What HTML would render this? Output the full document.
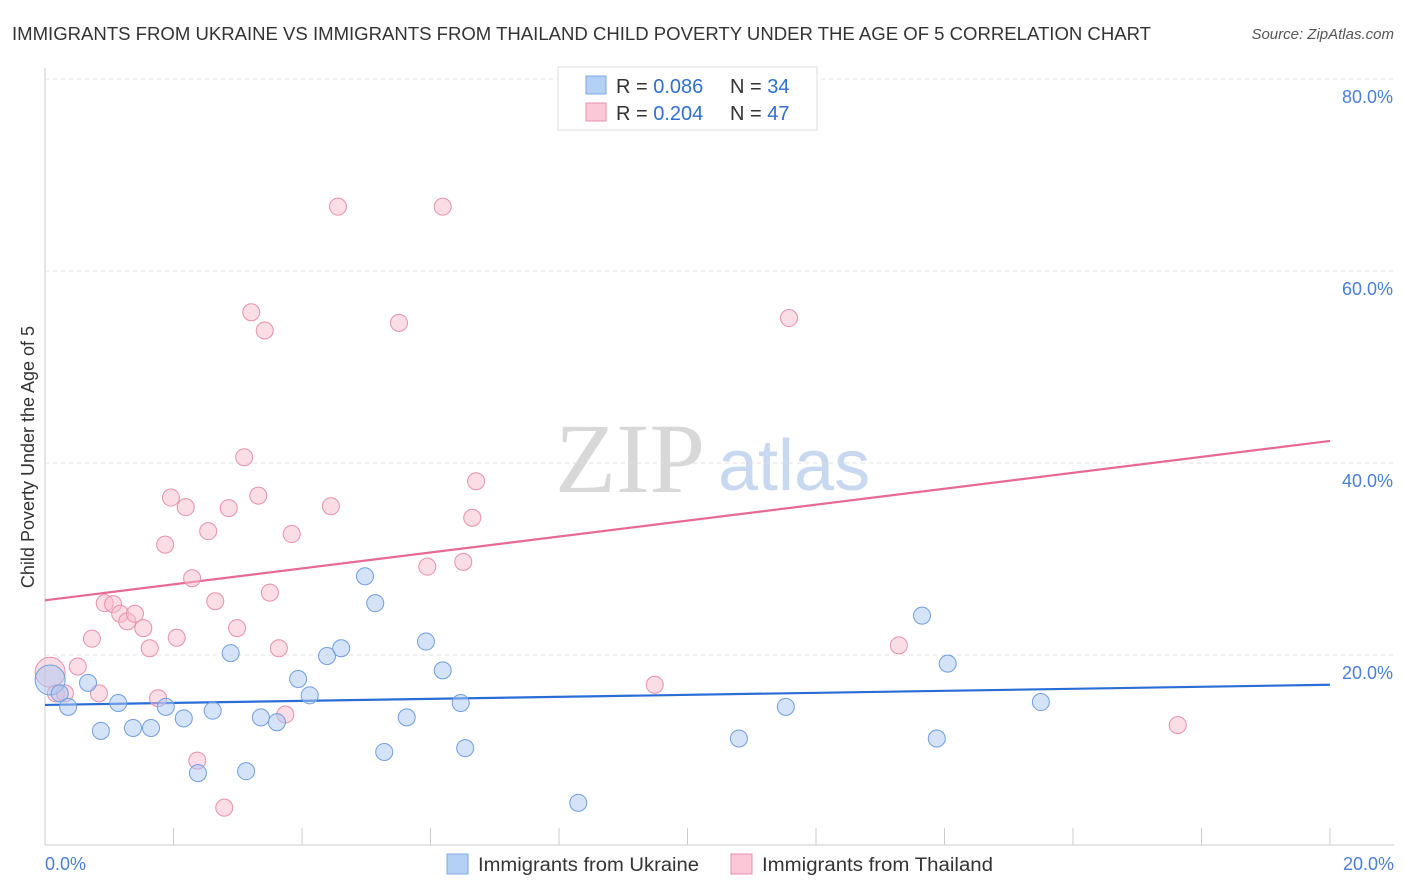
<!DOCTYPE html>
<html><head><meta charset="utf-8">
<style>
body{margin:0;background:#fff;font-family:"Liberation Sans",sans-serif;}
#wrap{position:relative;width:1406px;height:892px;overflow:hidden;}
</style></head>
<body>
<div id="wrap">
<svg id="chart" width="1406" height="892" xmlns="http://www.w3.org/2000/svg">
  <text x="12" y="40" font-size="18" fill="#333" textLength="1139" lengthAdjust="spacingAndGlyphs">IMMIGRANTS FROM UKRAINE VS IMMIGRANTS FROM THAILAND CHILD POVERTY UNDER THE AGE OF 5 CORRELATION CHART</text>
  <text x="1394" y="39" font-size="15" fill="#555" font-style="italic" text-anchor="end">Source: ZipAtlas.com</text>
  <text x="555" y="492" font-size="100" fill="#d8d8d8" font-family="Liberation Serif,serif">ZIP</text>
  <text x="718" y="490" font-size="72" fill="#c8d8f0">atlas</text>
  <text transform="translate(34,457) rotate(-90)" font-size="18" fill="#333" text-anchor="middle">Child Poverty Under the Age of 5</text>
  <g id="grid"></g>
  <g id="axes"></g>
  <g id="lines"></g>
  <g id="points"></g>
  <g>
    <rect x="558" y="67" width="259" height="63" fill="#fff" stroke="#ddd"/>
    <rect x="586" y="76" width="20" height="18" fill="#b5d0f5" stroke="#7fa8e0"/>
    <text x="616" y="93" font-size="20" fill="#333">R = <tspan fill="#2f6fd0">0.086</tspan></text>
    <text x="730" y="93" font-size="20" fill="#333">N = <tspan fill="#2f6fd0">34</tspan></text>
    <rect x="586" y="103" width="20" height="18" fill="#fbc8d7" stroke="#e890ac"/>
    <text x="616" y="120" font-size="20" fill="#333">R = <tspan fill="#2f6fd0">0.204</tspan></text>
    <text x="730" y="120" font-size="20" fill="#333">N = <tspan fill="#2f6fd0">47</tspan></text>
  </g>
  <g>
    <rect x="447" y="854" width="21" height="20" fill="#b5d0f5" stroke="#7fa8e0"/>
    <text x="478" y="871" font-size="19" fill="#333" textLength="221" lengthAdjust="spacingAndGlyphs">Immigrants from Ukraine</text>
    <rect x="731" y="854" width="21" height="20" fill="#fbc8d7" stroke="#e890ac"/>
    <text x="762" y="871" font-size="19" fill="#333" textLength="231" lengthAdjust="spacingAndGlyphs">Immigrants from Thailand</text>
  </g>
</svg>
</div>
<script>
const ukrX=[0.08,0.23,0.36,0.67,0.87,1.14,1.37,1.65,1.88,2.16,2.38,2.61,2.89,3.13,3.36,3.61,3.94,4.12,4.39,4.61,4.98,5.14,5.28,5.63,5.93,6.19,6.47,6.54,8.30,10.80,11.53,13.65,13.88,14.05,15.50];
const ukrY=[17.4,16.0,14.6,17.1,12.1,15.0,12.4,12.4,14.6,13.4,7.7,14.2,20.2,7.9,13.5,13.0,17.5,15.8,19.9,20.7,28.2,25.4,9.9,13.5,21.4,18.4,15.0,10.3,4.6,11.3,14.6,24.1,11.3,19.1,15.1];
const thaX=[0.08,0.17,0.31,0.51,0.73,0.84,0.93,1.06,1.17,1.28,1.40,1.53,1.63,1.76,1.87,1.96,2.05,2.19,2.29,2.37,2.54,2.65,2.79,2.86,2.99,3.10,3.21,3.32,3.42,3.50,3.64,3.74,3.84,4.45,4.56,5.51,5.95,6.19,6.51,6.65,6.71,9.49,11.58,13.29,17.63];
const thaY=[18.2,16.0,16.0,18.8,21.7,16.0,25.4,25.3,24.3,23.5,24.3,22.8,20.7,15.5,31.5,36.4,21.8,35.4,28.0,9.0,32.9,25.6,4.1,35.3,22.8,40.6,55.7,36.6,53.8,26.5,20.7,13.8,32.6,35.5,66.7,54.6,29.2,66.7,29.7,34.3,38.1,16.9,55.1,21.0,12.7];
const ukrTrend=[14.8,16.9];
const thaTrend=[25.7,42.3];
const yTicks=[20,40,60,80];
const xTickLabels=["0.0%","20.0%"];

const NS="http://www.w3.org/2000/svg";
const X0=45,X1=1330,Y0=847,PPY=9.6;
const sx=v=>X0+(v/20)*(X1-X0);
const sy=v=>Y0-v*PPY;
function mk(parent,tag,attrs){const e=document.createElementNS(NS,tag);for(const k in attrs)e.setAttribute(k,attrs[k]);document.getElementById(parent).appendChild(e);return e;}

yTicks.forEach(t=>{
  const g=mk('grid','line',{x1:X0,x2:1394,y1:sy(t),y2:sy(t),stroke:'#e0e0e0','stroke-dasharray':'4,4'});
  
  
  const l=mk('grid','text',{x:1393,y:sy(t)+24,'font-size':18,fill:'#4a7fd4','text-anchor':'end'});
  l.textContent=t.toFixed(1)+'%';
  
  
});
const ya=mk('axes','line',{x1:X0,x2:X0,y1:68,y2:845,stroke:'#ccc'});


const xa=mk('axes','line',{x1:X0,x2:1394,y1:845,y2:845,stroke:'#ccc'});


for(let i=0;i<=10;i++){
  const t=mk('axes','line',{x1:sx(i*2),x2:sx(i*2),y1:828,y2:845,stroke:'#ccc'});
  
  
}
[[0,'start',45],[20,'end',1394]].forEach((d,i)=>{
  const l=mk('axes','text',{x:d[2],y:870,'font-size':18,fill:'#4a7fd4','text-anchor':d[1]});
  l.textContent=xTickLabels[i];
  
  
});
function drawPts(xs,ys,fill,stroke,name){
  xs.forEach((x,i)=>{
    const c=mk('points','circle',{cx:sx(x),cy:sy(ys[i]),r:i===0?15:8.5,fill:fill,'fill-opacity':0.5,stroke:stroke,'stroke-width':1});
    
    
  });
}
drawPts(thaX,thaY,'#f7bccd','#e890ac','point-thailand');
drawPts(ukrX,ukrY,'#a9c8f2','#6f9ee0','point-ukraine');
const l1=mk('lines','line',{x1:sx(0),x2:sx(20),y1:sy(thaTrend[0]),y2:sy(thaTrend[1]),stroke:'#e66a94','stroke-width':2.2});


const l2=mk('lines','line',{x1:sx(0),x2:sx(20),y1:sy(ukrTrend[0]),y2:sy(ukrTrend[1]),stroke:'#2a6dd6','stroke-width':2.2});


</script>
</body></html>
